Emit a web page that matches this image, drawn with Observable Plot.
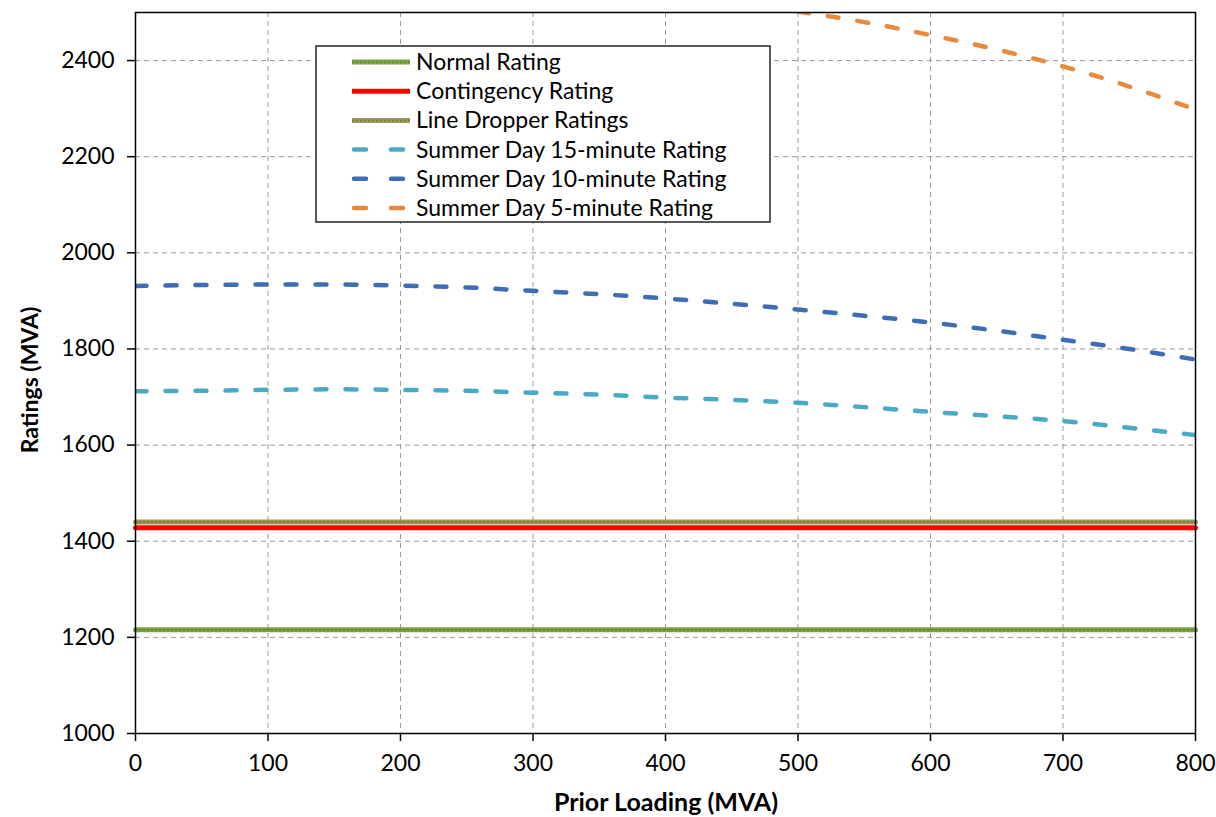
<!DOCTYPE html>
<html>
<head>
<meta charset="utf-8">
<script src="https://cdn.jsdelivr.net/npm/d3@7"></script>
<script src="https://cdn.jsdelivr.net/npm/@observablehq/plot@0.6"></script>
<style>
  html, body { margin: 0; padding: 0; background: #fff; }
  #chart { width: 1216px; height: 817px; }
</style>
</head>
<body>
<div id="chart"></div>
<script>
// ---- Data ----
const loadings = [0, 50, 100, 150, 200, 250, 300, 350, 400, 450, 500, 550, 600, 650, 700, 750, 800];
const rating15min = [1712, 1713, 1715, 1716, 1715, 1713, 1709, 1705, 1699, 1694, 1688, 1679, 1669, 1660, 1650, 1636, 1621];
const rating10min = [1931, 1933, 1934, 1934, 1932, 1928, 1921, 1914, 1905, 1894, 1882, 1869, 1855, 1838, 1819, 1800, 1778];
const loadings5min = [500, 550, 600, 650, 700, 750, 800];
const rating5min = [2502, 2480, 2453, 2423, 2388, 2346, 2298];
const normalRating = 1216;
const contingencyRating = 1428;
const lineDropperRating = 1440;
const xTicks = [0, 100, 200, 300, 400, 500, 600, 700, 800];
const yTicks = [1000, 1200, 1400, 1600, 1800, 2000, 2200, 2400];
const seriesNames = ["Normal Rating", "Contingency Rating", "Line Dropper Ratings",
  "Summer Day 15-minute Rating", "Summer Day 10-minute Rating", "Summer Day 5-minute Rating"];
const seriesColors = ["#7ea443", "#ff0000", "#9a9758", "#4aa9c4", "#3f6db3", "#e8893c"];

const t15 = loadings.map((x, i) => ({x, y: rating15min[i]}));
const t10 = loadings.map((x, i) => ({x, y: rating10min[i]}));
const t5 = loadings5min.map((x, i) => ({x, y: rating5min[i]}));
const flat = (v) => [{x: 0, y: v}, {x: 800, y: v}];

const dashed = {strokeWidth: 4.5, strokeDasharray: "11,19", strokeLinecap: "round", curve: "monotone-x", clip: true};
const FONT = "Lato, 'Open Sans', sans-serif";

const chart = Plot.plot({
  width: 1216,
  height: 817,
  marginLeft: 135,
  marginRight: 21,
  marginTop: 12,
  marginBottom: 84,
  style: {fontFamily: FONT, fontSize: "23px", color: "#000", background: "#fff"},
  x: {domain: [0, 800], label: null},
  y: {domain: [1000, 2500], label: null},
  marks: [
    Plot.gridX(xTicks.slice(1, -1), {stroke: "#999", strokeOpacity: 1, strokeDasharray: "5,4"}),
    Plot.gridY(yTicks.slice(1), {stroke: "#999", strokeOpacity: 1, strokeDasharray: "5,4"}),
    Plot.axisX(xTicks, {tickSize: 8, tickPadding: 13, fontSize: 23, tickFormat: d3.format("d"), stroke: "#000", strokeWidth: 1.5}),
    Plot.axisY(yTicks, {tickSize: 8, tickPadding: 13, fontSize: 23, tickFormat: d3.format("d"), stroke: "#000", strokeWidth: 1.5}),
    // Normal rating (textured green)
    Plot.line(flat(normalRating), {x: "x", y: "y", stroke: seriesColors[0], strokeWidth: 5}),
    Plot.line(flat(normalRating), {x: "x", y: "y", stroke: "#5f7f2c", strokeWidth: 1.5, strokeDasharray: "1.5,2.5"}),
    // Line dropper ratings (textured olive)
    Plot.line(flat(lineDropperRating), {x: "x", y: "y", stroke: seriesColors[2], strokeWidth: 5}),
    Plot.line(flat(lineDropperRating), {x: "x", y: "y", stroke: "#6f7a3a", strokeWidth: 1.5, strokeDasharray: "1.5,2.5"}),
    // Contingency rating
    Plot.line(flat(contingencyRating), {x: "x", y: "y", stroke: seriesColors[1], strokeWidth: 5}),
    // Summer day curves
    Plot.line(t15, {x: "x", y: "y", stroke: seriesColors[3], ...dashed}),
    Plot.line(t10, {x: "x", y: "y", stroke: seriesColors[4], ...dashed}),
    Plot.line(t5, {x: "x", y: "y", stroke: seriesColors[5], ...dashed}),
    Plot.frame({stroke: "#000", strokeWidth: 1.5})
  ]
});

document.getElementById("chart").appendChild(chart);

const svg = d3.select(chart);
// Axis titles
svg.append("text")
  .attr("transform", "translate(38,380) rotate(-90)")
  .attr("text-anchor", "middle")
  .attr("font-family", FONT)
  .attr("font-weight", "bold")
  .attr("font-size", 23)
  .attr("fill", "#000")
  .text("Ratings (MVA)");
svg.append("text")
  .attr("x", 666).attr("y", 811)
  .attr("text-anchor", "middle")
  .attr("font-family", FONT)
  .attr("font-weight", "bold")
  .attr("font-size", 25)
  .attr("fill", "#000")
  .text("Prior Loading (MVA)");

// Legend box
const lg = svg.append("g");
lg.append("rect").attr("x", 316).attr("y", 46).attr("width", 454).attr("height", 176)
  .attr("fill", "#fff").attr("stroke", "#222").attr("stroke-width", 1.5);
seriesNames.forEach((name, i) => {
  const cy = 62 + i * 29.2;
  if (i < 3) {
    lg.append("line").attr("x1", 352).attr("x2", 410).attr("y1", cy).attr("y2", cy)
      .attr("stroke", seriesColors[i]).attr("stroke-width", 5);
    if (i !== 1) {
      lg.append("line").attr("x1", 352).attr("x2", 410).attr("y1", cy).attr("y2", cy)
        .attr("stroke", i === 0 ? "#5f7f2c" : "#6f7a3a").attr("stroke-width", 1.5).attr("stroke-dasharray", "1.5,2.5");
    }
  } else {
    lg.append("line").attr("x1", 354).attr("x2", 407).attr("y1", cy).attr("y2", cy)
      .attr("stroke", seriesColors[i]).attr("stroke-width", 4.5)
      .attr("stroke-linecap", "round").attr("stroke-dasharray", "12,25");
  }
  lg.append("text").attr("x", 416).attr("y", cy).attr("dy", "0.35em")
    .attr("text-anchor", "start")
    .attr("font-family", FONT).attr("font-size", 23).attr("fill", "#000")
    .text(name);
});
</script>
</body>
</html>
